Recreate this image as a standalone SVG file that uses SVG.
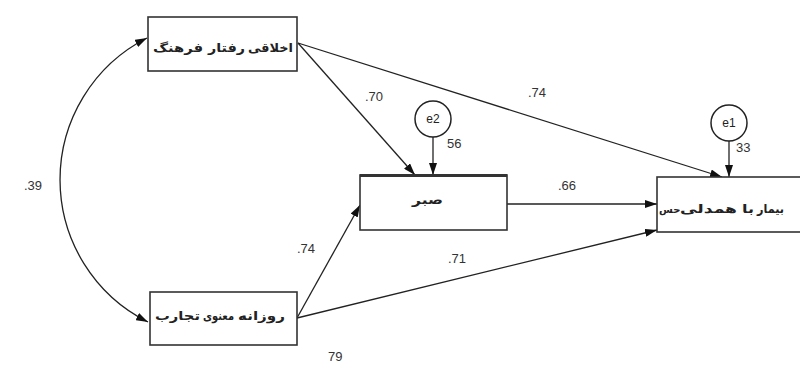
<svg xmlns="http://www.w3.org/2000/svg" width="800" height="372" viewBox="0 0 800 372">
<style>
.box{fill:#fff;stroke:#333;stroke-width:1.6}
.con{fill:none;stroke:#222;stroke-width:1.3}
.lbl{font-family:"Liberation Sans",Arial,sans-serif;font-size:13px;fill:#333}
.fa{font-family:"DejaVu Sans","Noto Sans",sans-serif;font-size:12px;fill:#222;font-weight:bold}
.err{fill:#fff;stroke:#222;stroke-width:1.5}
.etx{font-family:"Liberation Sans",Arial,sans-serif;font-size:12px;fill:#222;text-anchor:middle}
</style>
<defs>
<marker id="ah" viewBox="0 0 12 8" refX="12" refY="4" markerWidth="12" markerHeight="8" markerUnits="userSpaceOnUse" orient="auto-start-reverse">
<path d="M0,0 L12,4 L0,8 Z" fill="#111"/>
</marker>
</defs>
<rect width="800" height="372" fill="#fff"/>
<g id="connectors">
<path class="con" d="M147,38 A159,159 0 0,0 148,322" marker-start="url(#ah)" marker-end="url(#ah)"/>
<line class="con" x1="298" y1="43" x2="415" y2="175" marker-end="url(#ah)"/>
<line class="con" x1="298" y1="43" x2="722" y2="177" marker-end="url(#ah)"/>
<line class="con" x1="433" y1="137" x2="433" y2="175" marker-end="url(#ah)"/>
<line class="con" x1="729" y1="141" x2="729" y2="177" marker-end="url(#ah)"/>
<line class="con" x1="507" y1="204" x2="657" y2="204" marker-end="url(#ah)"/>
<line class="con" x1="297" y1="318" x2="360" y2="205" marker-end="url(#ah)"/>
<line class="con" x1="297" y1="318" x2="657" y2="230" marker-end="url(#ah)"/>
</g>
<g id="labels">
<text class="lbl" x="24" y="190">.39</text>
<text class="lbl" x="365" y="101">.70</text>
<text class="lbl" x="528" y="97">.74</text>
<text class="lbl" x="558" y="190">.66</text>
<text class="lbl" x="297" y="253">.74</text>
<text class="lbl" x="448" y="263">.71</text>
<text class="lbl" x="328" y="361">79</text>
<text class="lbl" x="447" y="148">56</text>
<text class="lbl" x="736" y="152">33</text>
</g>
<g id="node-farhang">
<rect class="box" x="148" y="17" width="149" height="54"/>
<text class="fa" y="52"><tspan x="153" textLength="50" lengthAdjust="spacingAndGlyphs">فرهنگ</tspan></text>
<text class="fa" y="52"><tspan x="208" textLength="37" lengthAdjust="spacingAndGlyphs">رفتار</tspan></text>
<text class="fa" y="52"><tspan x="248" textLength="45" lengthAdjust="spacingAndGlyphs">اخلاقی</tspan></text>
</g>
<g id="node-tajarob">
<rect class="box" x="150" y="292" width="147" height="53"/>
<text class="fa" y="320"><tspan x="155" textLength="45" lengthAdjust="spacingAndGlyphs">تجارب</tspan></text>
<text class="fa" y="320"><tspan x="203" textLength="31" lengthAdjust="spacingAndGlyphs">معنوی</tspan></text>
<text class="fa" y="320"><tspan x="238" textLength="47" lengthAdjust="spacingAndGlyphs">روزانه</tspan></text>
</g>
<g id="node-sabr">
<rect class="box" x="360" y="175" width="147" height="55"/>
<line x1="360" y1="175.5" x2="507" y2="175.5" stroke="#333" stroke-width="3"/>
<text class="fa" y="204"><tspan x="412" textLength="31" lengthAdjust="spacingAndGlyphs">صبر</tspan></text>
</g>
<g id="node-hamdeli">
<rect class="box" x="657" y="177" width="160" height="55"/>
<text class="fa" y="213" style="font-size:10px"><tspan x="659">حس</tspan></text>
<text class="fa" y="213"><tspan x="680" textLength="57" lengthAdjust="spacingAndGlyphs">همدلی</tspan></text>
<text class="fa" y="213"><tspan x="742" textLength="12" lengthAdjust="spacingAndGlyphs">با</tspan></text>
<text class="fa" y="213"><tspan x="757" textLength="27" lengthAdjust="spacingAndGlyphs">بیمار</tspan></text>
</g>
<g id="node-e2">
<circle class="err" cx="433" cy="119" r="18"/>
<text class="etx" x="433" y="123">e2</text>
</g>
<g id="node-e1">
<circle class="err" cx="729" cy="123" r="18"/>
<text class="etx" x="729" y="127">e1</text>
</g>
</svg>
